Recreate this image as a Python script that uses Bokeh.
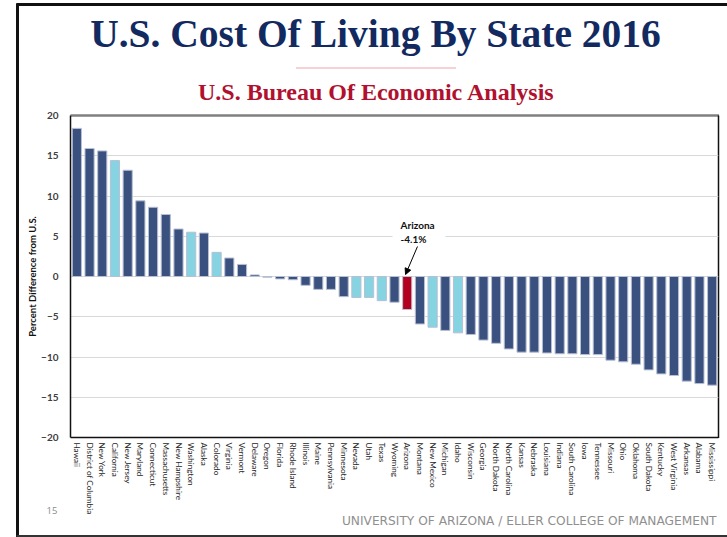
from bokeh.plotting import figure
from bokeh.models import (Range1d, FactorRange, FixedTicker, Label, Arrow, NormalHead,
                          ColumnDataSource, BoxAnnotation)
from bokeh.core.properties import value
from bokeh.embed import file_html
from bokeh.resources import INLINE

states = ["Hawaii", "District of Columbia", "New York", "California", "New Jersey", "Maryland",
          "Connecticut", "Massachusetts", "New Hampshire", "Washington", "Alaska", "Colorado",
          "Virginia", "Vermont", "Delaware", "Oregon", "Florida", "Rhode Island", "Illinois",
          "Maine", "Pennsylvania", "Minnesota", "Nevada", "Utah", "Texas", "Wyoming", "Arizona",
          "Montana", "New Mexico", "Michigan", "Idaho", "Wisconsin", "Georgia", "North Dakota",
          "North Carolina", "Kansas", "Nebraska", "Louisiana", "Indiana", "South Carolina", "Iowa",
          "Tennessee", "Missouri", "Ohio", "Oklahoma", "South Dakota", "Kentucky", "West Virginia",
          "Arkansas", "Alabama", "Mississippi"]
values = [18.4, 15.9, 15.6, 14.4, 13.2, 9.4, 8.6, 7.7, 5.9, 5.5, 5.4, 3.0, 2.3, 1.5, 0.2,
          -0.1, -0.3, -0.4, -1.1, -1.6, -1.6, -2.5, -2.6, -2.6, -3.0, -3.2, -4.1, -5.9, -6.3,
          -6.7, -7.0, -7.2, -7.9, -8.3, -9.0, -9.4, -9.4, -9.5, -9.6, -9.6, -9.7, -9.7, -10.4,
          -10.6, -10.9, -11.6, -12.1, -12.3, -13.0, -13.3, -13.5]
light_states = ["California", "Washington", "Colorado", "Oregon", "Nevada", "Utah", "Texas",
                "New Mexico", "Idaho"]
highlight_state = "Arizona"
highlight_text = "-4.1%"
y_ticks = [-20, -15, -10, -5, 0, 5, 10, 15, 20]
title_text = "U.S. Cost Of Living By State 2016"
subtitle_text = "U.S. Bureau Of Economic Analysis"
footer_text = "UNIVERSITY OF ARIZONA / ELLER COLLEGE OF MANAGEMENT"
page_number = "15"

NAVY = "#3a5180"
LIGHT = "#86d3e2"
RED = "#b3001f"
colors = [RED if s == highlight_state else (LIGHT if s in light_states else NAVY) for s in states]
src = ColumnDataSource(dict(state=states, value=values, color=colors))

W, H = 727, 537

# ---------- background layer (slide decoration, page-pixel coordinates) ----------
bg = figure(width=W, height=H, x_range=Range1d(0, W), y_range=Range1d(H, 0),
            min_border=0, x_axis_location=None, y_axis_location=None,
            toolbar_location=None, output_backend="svg")
bg.grid.visible = False
bg.outline_line_color = None
bg.background_fill_color = "white"
bg.border_fill_color = "white"

# slide border
bg.segment(x0=[17], y0=[3], x1=[17], y1=[537], line_color="#111111", line_width=3)
bg.segment(x0=[16], y0=[4], x1=[727], y1=[4], line_color="#111111", line_width=3)
bg.segment(x0=[16], y0=[535.5], x1=[727], y1=[535.5], line_color="#333333", line_width=2)
# chart frame top (gray) and right (black)
bg.segment(x0=[70], y0=[115], x1=[718.5], y1=[115], line_color="#7f7f7f", line_width=2.5)
bg.segment(x0=[718], y0=[115], x1=[718], y1=[437.5], line_color="#111111", line_width=1.5)
# dotted rule under the title
bg.segment(x0=[296], y0=[67.5], x1=[456], y1=[67.5], line_color="#d04a5a", line_width=1,
           line_dash="1 1")

bg.text(x=[375], y=[33], text=[title_text], text_font=value("Liberation Serif"),
        text_font_style="bold", text_font_size="39.5px", text_color="#122a5f",
        text_align="center", text_baseline="alphabetic")
bg.text(x=[376], y=[91], text=[subtitle_text], text_font=value("Liberation Serif"),
        text_font_style="bold", text_font_size="24px", text_color="#b1112e",
        text_align="center", text_baseline="alphabetic")
bg.text(x=[51.5], y=[510], text=[page_number], text_font=value("Open Sans"),
        text_font_size="9.5px", text_color="#8c8c8c", text_align="center",
        text_baseline="alphabetic")
bg.text(x=[716], y=[520], text=[footer_text], text_font=value("DejaVu Sans"),
        text_font_size="12.2px", text_color="#8f8f8f", text_align="right",
        text_baseline="alphabetic")

# ---------- chart layer (overlaid on top) ----------
p = figure(x_range=FactorRange(factors=states), y_range=Range1d(-20, 20),
           width=W, height=H, output_backend="svg", toolbar_location=None,
           min_border_left=70, min_border_right=9, min_border_top=115, min_border_bottom=100)
p.styles = {"position": "absolute", "top": "0px", "left": "0px"}
p.background_fill_color = None
p.border_fill_color = None
p.outline_line_color = None

p.vbar(x="state", top="value", bottom=0, width=0.72, source=src, fill_color="color",
       line_color="#b7bfd3", line_width=1)

p.xgrid.visible = False
p.ygrid.ticker = FixedTicker(ticks=y_ticks)
p.ygrid.grid_line_color = "#d9d9d9"
p.ygrid.grid_line_width = 1

p.yaxis.ticker = FixedTicker(ticks=y_ticks)
p.yaxis.axis_line_color = "#111111"
p.yaxis.axis_line_width = 1.5
p.yaxis.major_tick_line_color = None
p.yaxis.minor_tick_line_color = None
p.yaxis.major_tick_out = 0
p.yaxis.major_label_standoff = 12
p.yaxis.major_label_text_font = "Lato"
p.yaxis.major_label_text_font_style = "bold"
p.yaxis.major_label_text_font_size = "10px"
p.yaxis.major_label_text_color = "#404040"
p.yaxis.axis_label = "Percent Difference from U.S."
p.yaxis.axis_label_text_font = "Lato"
p.yaxis.axis_label_text_font_style = "bold"
p.yaxis.axis_label_text_font_size = "9.5px"
p.yaxis.axis_label_text_color = "#111111"
p.yaxis.axis_label_standoff = 0

p.xaxis.axis_line_color = "#111111"
p.xaxis.axis_line_width = 1.5
p.xaxis.major_tick_line_color = None
p.xaxis.major_tick_out = 0
p.xaxis.major_label_standoff = 5
p.xaxis.major_label_orientation = "vertical"
p.xaxis.major_label_text_font = "Lato"
p.xaxis.major_label_text_font_size = "8.2px"
p.xaxis.major_label_text_color = "#262626"

# annotation for Arizona
p.add_layout(BoxAnnotation(left=25.34, right=29.51, bottom=4.8, top=5.2,
                           fill_color="white", fill_alpha=1, line_color=None))
p.add_layout(Label(x=25.97, y=6.34, text=highlight_state, text_baseline="alphabetic",
                   text_font="Lato", text_font_style="bold", text_font_size="10px",
                   text_color="#111111"))
p.add_layout(Label(x=25.97, y=4.6, text=highlight_text, text_baseline="alphabetic",
                   text_font="Lato", text_font_style="bold", text_font_size="10px",
                   text_color="#111111"))
p.add_layout(Arrow(x_start=27.31, y_start=3.73, x_end=26.37, y_end=0.25,
                   end=NormalHead(size=6, fill_color="black", line_color="black"),
                   line_color="black", line_width=1))

open("out.html", "w").write(file_html([bg, p], INLINE))
